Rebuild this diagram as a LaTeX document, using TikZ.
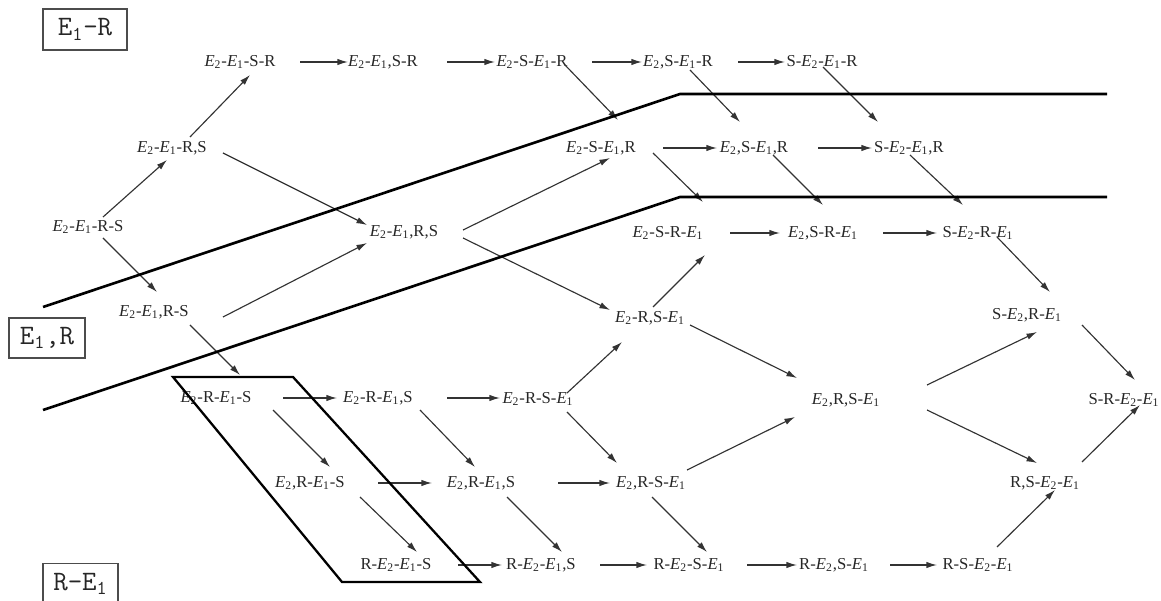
\documentclass[tikz,border=0pt]{standalone}
\usepackage{fontspec}
\setmainfont{Liberation Serif}
\usetikzlibrary{arrows.meta,calc}
\newcommand{\Es}[1]{\textit{E}\textsubscript{#1}}
\begin{document}
\begin{tikzpicture}[x=0.02cm,y=-0.02cm,
  st/.style={inner sep=0pt,font=\fontsize{9.5}{11}\selectfont,text=black!85},
  arr/.style={line width=0.65pt,draw=black!80,-{Latex[length=6pt,width=3.6pt]}},
  band/.style={line width=1.5pt,draw=black},
  tag/.style={draw=black!70,line width=0.9pt,inner sep=0pt,font=\ttfamily\fontsize{16}{18}\selectfont,text=black!85}]
\clip (0,0) rectangle (1161,601);
% tag boxes
\node[tag,minimum width=1.68cm,minimum height=0.82cm] (t1) at (85,29.5) {E\textsubscript{1}-R};
\node[tag,minimum width=1.52cm,minimum height=0.80cm] (t2) at (47,338) {E\textsubscript{1},R};
\node[tag,minimum width=1.50cm,minimum height=0.82cm] (t3) at (80.5,584) {R-E\textsubscript{1}};
% nodes
\node[st] (a1) at (240,62) {\Es2-\Es1-S-R};
\node[st] (a2) at (383,62) {\Es2-\Es1,S-R};
\node[st] (a3) at (532,62) {\Es2-S-\Es1-R};
\node[st] (a4) at (678,62) {\Es2,S-\Es1-R};
\node[st] (a5) at (822,62) {S-\Es2-\Es1-R};
\node[st] (b1) at (172,148) {\Es2-\Es1-R,S};
\node[st] (b2) at (601,148) {\Es2-S-\Es1,R};
\node[st] (b3) at (754,148) {\Es2,S-\Es1,R};
\node[st] (b4) at (909,148) {S-\Es2-\Es1,R};
\node[st] (d0) at (88,227) {\Es2-\Es1-R-S};
\node[st] (c0) at (404,232) {\Es2-\Es1,R,S};
\node[st] (c1) at (668,233) {\Es2-S-R-\Es1};
\node[st] (c2) at (823,233) {\Es2,S-R-\Es1};
\node[st] (c3) at (978,233) {S-\Es2-R-\Es1};
\node[st] (e0) at (154,312) {\Es2-\Es1,R-S};
\node[st] (g) at (650,318) {\Es2-R,S-\Es1};
\node[st] (l) at (1027,315) {S-\Es2,R-\Es1};
\node[st] (f0) at (216,398) {\Es2-R-\Es1-S};
\node[st] (f1) at (378,398) {\Es2-R-\Es1,S};
\node[st] (f2) at (538,399) {\Es2-R-S-\Es1};
\node[st] (h) at (846,400) {\Es2,R,S-\Es1};
\node[st] (m) at (1124,400) {S-R-\Es2-\Es1};
\node[st] (i0) at (310,483) {\Es2,R-\Es1-S};
\node[st] (i1) at (481,483) {\Es2,R-\Es1,S};
\node[st] (i2) at (651,483) {\Es2,R-S-\Es1};
\node[st] (j) at (1045,483) {R,S-\Es2-\Es1};
\node[st] (k0) at (396,565) {R-\Es2-\Es1-S};
\node[st] (k1) at (541,565) {R-\Es2-\Es1,S};
\node[st] (k2) at (689,565) {R-\Es2-S-\Es1};
\node[st] (k3) at (834,565) {R-\Es2,S-\Es1};
\node[st] (k4) at (978,565) {R-S-\Es2-\Es1};
% connectors
\draw[arr] ($(a1)+(60,0)$) -- ($(a2)+(-35,0)$);
\draw[arr] ($(a2)+(64,0)$) -- ($(a3)+(-37,0)$);
\draw[arr] ($(a3)+(60,0)$) -- ($(a4)+(-36,0)$);
\draw[arr] ($(a4)+(60,0)$) -- ($(a5)+(-37,0)$);
\draw[arr] ($(b1)+(18,-11)$) -- ($(a1)+(10,13)$);
\draw[arr] ($(d0)+(15,-10)$) -- ($(b1)+(-5,12)$);
\draw[arr] ($(d0)+(15,11)$) -- ($(e0)+(3,-20)$);
\draw[arr] ($(b1)+(51,5)$) -- ($(c0)+(-37,-7)$);
\draw[arr] ($(e0)+(69,5)$) -- ($(c0)+(-37,11)$);
\draw[arr] ($(e0)+(36,13)$) -- ($(f0)+(24,-23)$);
\draw[arr] ($(a3)+(33,3)$) -- ($(b2)+(17,-28)$);
\draw[arr] ($(a4)+(12,8)$) -- ($(b3)+(-14,-26)$);
\draw[arr] ($(a5)+(1,5)$) -- ($(b4)+(-31,-26)$);
\draw[arr] ($(b2)+(62,0)$) -- ($(b3)+(-37,0)$);
\draw[arr] ($(b3)+(64,0)$) -- ($(b4)+(-37,0)$);
\draw[arr] ($(c0)+(59,-2)$) -- ($(b2)+(9,10)$);
\draw[arr] ($(b2)+(52,5)$) -- ($(c1)+(35,-31)$);
\draw[arr] ($(b3)+(19,7)$) -- ($(c2)+(0,-28)$);
\draw[arr] ($(b4)+(1,7)$) -- ($(c3)+(-15,-28)$);
\draw[arr] ($(c1)+(62,0)$) -- ($(c2)+(-43,0)$);
\draw[arr] ($(c2)+(60,0)$) -- ($(c3)+(-41,0)$);
\draw[arr] ($(c0)+(59,6)$) -- ($(g)+(-40,-8)$);
\draw[arr] ($(g)+(3,-11)$) -- ($(c1)+(37,22)$);
\draw[arr] ($(g)+(40,7)$) -- ($(h)+(-49,-22)$);
\draw[arr] ($(c3)+(19,4)$) -- ($(l)+(23,-23)$);
\draw[arr] ($(l)+(55,10)$) -- ($(m)+(11,-20)$);
\draw[arr] ($(h)+(81,-15)$) -- ($(l)+(10,17)$);
\draw[arr] ($(h)+(81,10)$) -- ($(j)+(-8,-20)$);
\draw[arr] ($(j)+(37,-21)$) -- ($(m)+(16,5)$);
\draw[arr] ($(f0)+(67,0)$) -- ($(f1)+(-41,0)$);
\draw[arr] ($(f1)+(69,0)$) -- ($(f2)+(-38,-1)$);
\draw[arr] ($(f2)+(29,-6)$) -- ($(g)+(-28,24)$);
\draw[arr] ($(f2)+(29,13)$) -- ($(i2)+(-34,-20)$);
\draw[arr] ($(f1)+(42,12)$) -- ($(i1)+(-6,-16)$);
\draw[arr] ($(f0)+(57,12)$) -- ($(i0)+(20,-16)$);
\draw[arr] ($(i0)+(68,0)$) -- ($(i1)+(-49,0)$);
\draw[arr] ($(i1)+(77,0)$) -- ($(i2)+(-41,0)$);
\draw[arr] ($(i2)+(36,-13)$) -- ($(h)+(-51,17)$);
\draw[arr] ($(i2)+(1,14)$) -- ($(k2)+(18,-13)$);
\draw[arr] ($(i1)+(26,14)$) -- ($(k1)+(21,-13)$);
\draw[arr] ($(i0)+(50,14)$) -- ($(k0)+(21,-13)$);
\draw[arr] ($(k0)+(62,0)$) -- ($(k1)+(-39,0)$);
\draw[arr] ($(k1)+(59,0)$) -- ($(k2)+(-42,0)$);
\draw[arr] ($(k2)+(58,0)$) -- ($(k3)+(-37,0)$);
\draw[arr] ($(k3)+(56,0)$) -- ($(k4)+(-41,0)$);
\draw[arr] ($(k4)+(19,-18)$) -- ($(j)+(10,7)$);
% region boundaries
\draw[band] (43,307) -- (680,94) -- (1107,94);
\draw[band] (43,410) -- (680,197) -- (1107,197);
\draw[band,line width=1.3pt] (173,377) -- (293,377) -- (480,582) -- (342,582) -- cycle;
\end{tikzpicture}
\end{document}
